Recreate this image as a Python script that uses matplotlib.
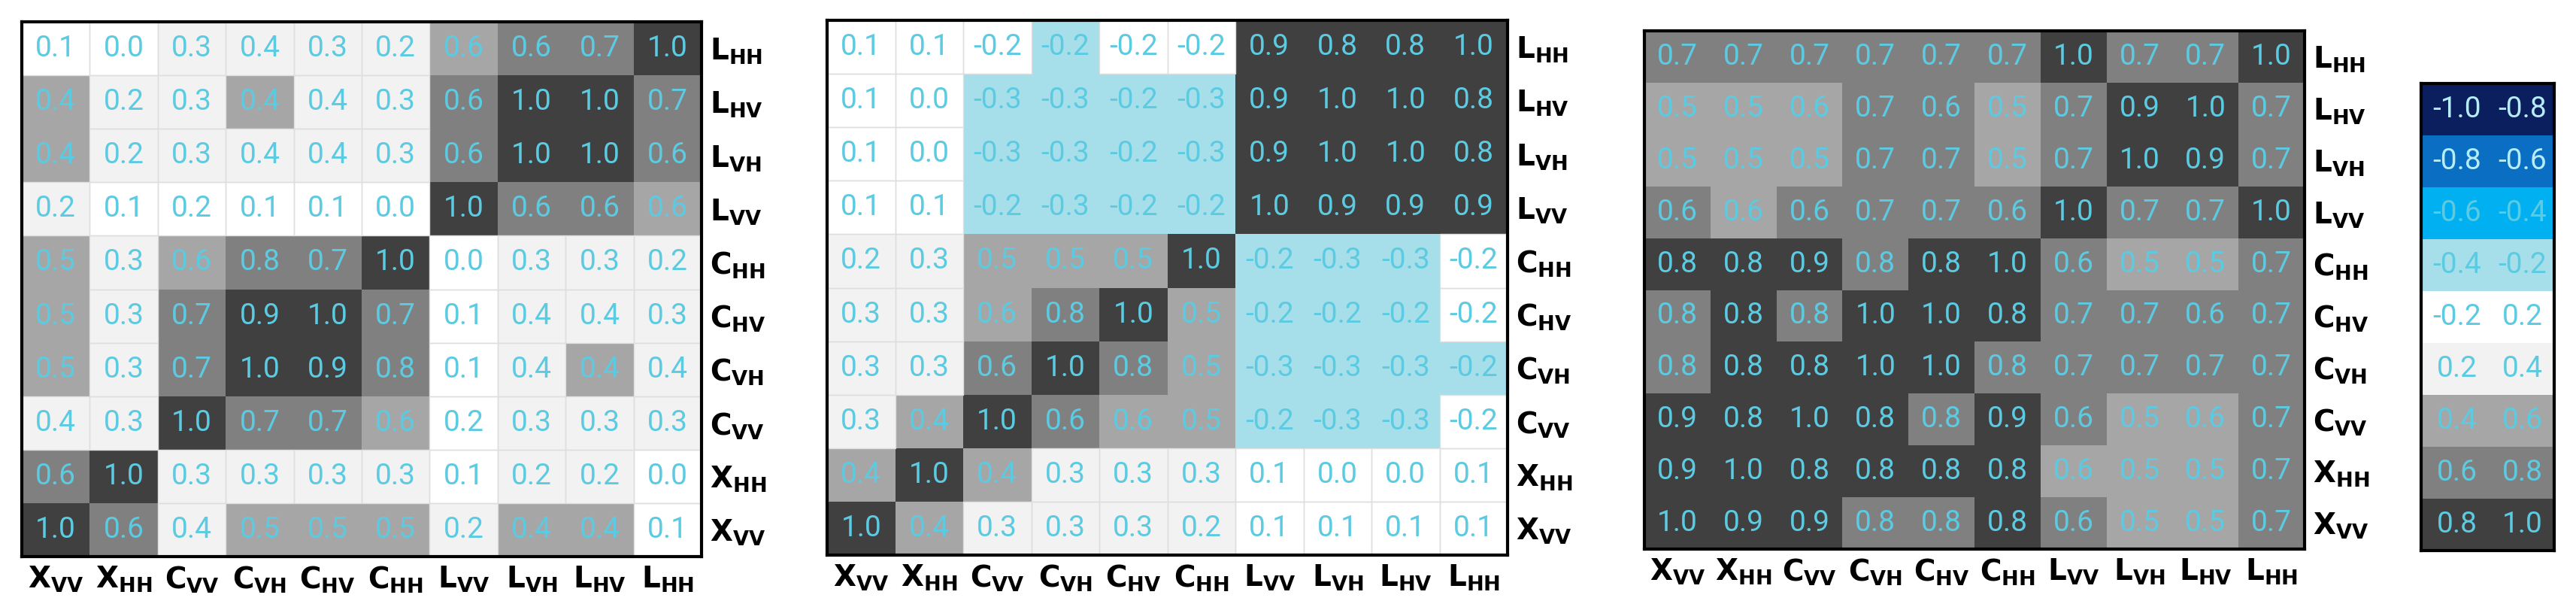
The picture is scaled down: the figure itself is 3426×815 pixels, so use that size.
import matplotlib
matplotlib.use("Agg")
import matplotlib.pyplot as plt
import numpy as np
from matplotlib.colors import ListedColormap, BoundaryNorm
from matplotlib.patches import Rectangle

rows = ["L_HH", "L_HV", "L_VH", "L_VV", "C_HH", "C_HV", "C_VH", "C_VV", "X_HH", "X_VV"]
cols = ["X_VV", "X_HH", "C_VV", "C_VH", "C_HV", "C_HH", "L_VV", "L_VH", "L_HV", "L_HH"]

m1 = [
    [0.10, 0.00, 0.30, 0.38, 0.30, 0.22, 0.58, 0.62, 0.70, 1.00],
    [0.42, 0.22, 0.30, 0.42, 0.38, 0.30, 0.62, 1.00, 1.00, 0.70],
    [0.42, 0.22, 0.30, 0.38, 0.38, 0.30, 0.62, 1.00, 1.00, 0.62],
    [0.22, 0.10, 0.18, 0.10, 0.10, 0.00, 1.00, 0.62, 0.62, 0.58],
    [0.50, 0.30, 0.58, 0.78, 0.70, 1.00, 0.00, 0.30, 0.30, 0.22],
    [0.50, 0.30, 0.70, 0.90, 1.00, 0.70, 0.10, 0.38, 0.38, 0.30],
    [0.50, 0.30, 0.70, 1.00, 0.90, 0.78, 0.10, 0.38, 0.42, 0.38],
    [0.38, 0.30, 1.00, 0.70, 0.70, 0.58, 0.18, 0.30, 0.30, 0.30],
    [0.62, 1.00, 0.30, 0.30, 0.30, 0.30, 0.10, 0.22, 0.22, 0.00],
    [1.00, 0.62, 0.38, 0.50, 0.50, 0.50, 0.22, 0.42, 0.42, 0.10],
]
m2 = [
    [0.10, 0.10, -0.18, -0.22, -0.18, -0.18, 0.90, 0.82, 0.82, 1.00],
    [0.10, 0.00, -0.30, -0.30, -0.22, -0.30, 0.90, 1.00, 1.00, 0.82],
    [0.10, 0.00, -0.30, -0.30, -0.22, -0.30, 0.90, 1.00, 1.00, 0.82],
    [0.10, 0.10, -0.22, -0.30, -0.22, -0.22, 1.00, 0.90, 0.90, 0.90],
    [0.22, 0.30, 0.50, 0.50, 0.50, 1.00, -0.22, -0.30, -0.30, -0.18],
    [0.30, 0.30, 0.58, 0.78, 1.00, 0.50, -0.22, -0.22, -0.22, -0.18],
    [0.30, 0.30, 0.62, 1.00, 0.78, 0.50, -0.30, -0.30, -0.30, -0.22],
    [0.30, 0.42, 1.00, 0.62, 0.58, 0.50, -0.22, -0.30, -0.30, -0.18],
    [0.42, 1.00, 0.42, 0.30, 0.30, 0.30, 0.10, 0.00, 0.00, 0.10],
    [1.00, 0.42, 0.30, 0.30, 0.30, 0.22, 0.10, 0.10, 0.10, 0.10],
]
m3 = [
    [0.70, 0.70, 0.70, 0.70, 0.70, 0.70, 1.00, 0.70, 0.70, 1.00],
    [0.50, 0.50, 0.58, 0.70, 0.62, 0.50, 0.70, 0.90, 1.00, 0.70],
    [0.50, 0.50, 0.50, 0.70, 0.70, 0.50, 0.70, 1.00, 0.90, 0.70],
    [0.62, 0.58, 0.62, 0.70, 0.70, 0.62, 1.00, 0.70, 0.70, 1.00],
    [0.82, 0.82, 0.90, 0.78, 0.82, 1.00, 0.62, 0.50, 0.50, 0.70],
    [0.78, 0.82, 0.78, 1.00, 1.00, 0.82, 0.70, 0.70, 0.62, 0.70],
    [0.78, 0.82, 0.82, 1.00, 1.00, 0.78, 0.70, 0.70, 0.70, 0.70],
    [0.90, 0.82, 1.00, 0.82, 0.78, 0.90, 0.62, 0.50, 0.58, 0.70],
    [0.90, 1.00, 0.82, 0.82, 0.82, 0.82, 0.58, 0.50, 0.50, 0.70],
    [1.00, 0.90, 0.90, 0.78, 0.78, 0.82, 0.62, 0.50, 0.50, 0.70],
]

bounds = [-1.0, -0.8, -0.6, -0.4, -0.2, 0.2, 0.4, 0.6, 0.8, 1.0]
bin_colors = ["#0b1f5e", "#0a6fc2", "#00b0f0", "#a6dfea", "#ffffff",
              "#f2f2f2", "#a6a6a6", "#808080", "#404040"]
cmap = ListedColormap(bin_colors)
norm = BoundaryNorm(bounds[:-1] + [1.0001], cmap.N)

TXT = "#5ccbe2"
FONT = ["Roboto", "DejaVu Sans"]

def lab(s):
    a, b = s.split("_")
    return r"$\mathbf{" + a + r"}_{\mathbf{" + b + r"}}$"

W, H = 3426, 815
fig = plt.figure(figsize=(W / 100, H / 100), dpi=100)

def ax_px(l, r, t, b):
    return fig.add_axes([l / W, 1 - b / H, (r - l) / W, (b - t) / H])

def heat(ax, m):
    m = np.array(m)
    ax.pcolormesh(np.arange(11), np.arange(11), m, cmap=cmap, norm=norm)
    for i in range(10):
        for j in range(10):
            if -0.2 <= m[i, j] < 0.4:
                ax.add_patch(Rectangle((j, i), 1, 1, fill=False,
                                       edgecolor="#dedede", linewidth=1.0))
    ax.set_xlim(0, 10)
    ax.set_ylim(10, 0)
    for i in range(10):
        for j in range(10):
            ax.text(j + 0.5, i + 0.5, f"{m[i, j]:.1f}", ha="center", va="center",
                    color=TXT, fontsize=28, family=FONT)
    ax.set_xticks(np.arange(10) + 0.5)
    ax.set_xticklabels([lab(c) for c in cols], fontsize=28)
    ax.set_yticks(np.arange(10) + 0.5)
    ax.set_yticklabels([lab(r) for r in rows], fontsize=28)
    ax.yaxis.tick_right()
    ax.tick_params(length=0, pad=8)
    for s in ax.spines.values():
        s.set_linewidth(3)
        s.set_color("black")

heat(ax_px(29, 933, 29, 740), m1)
heat(ax_px(1100, 2005, 27, 738), m2)
heat(ax_px(2187, 3065, 41, 730), m3)

# legend
lax = ax_px(3220, 3397, 111, 732)
lv = np.array([[(bounds[k] + bounds[k + 1]) / 2] for k in range(9)])
lax.pcolormesh(np.arange(2), np.arange(10), lv, cmap=cmap, norm=norm)
lax.set_xlim(0, 1)
lax.set_ylim(9, 0)
for k in range(9):
    c = TXT if k >= 2 else "#b5ecf7"
    lax.text(0.27, k + 0.5, f"{bounds[k]:.1f}", ha="center", va="center",
             color=c, fontsize=28, family=FONT)
    lax.text(0.76, k + 0.5, f"{bounds[k + 1]:.1f}", ha="center", va="center",
             color=c, fontsize=28, family=FONT)
lax.set_xticks([])
lax.set_yticks([])
for s in lax.spines.values():
    s.set_linewidth(3)

fig.savefig("out.png", dpi=100)
